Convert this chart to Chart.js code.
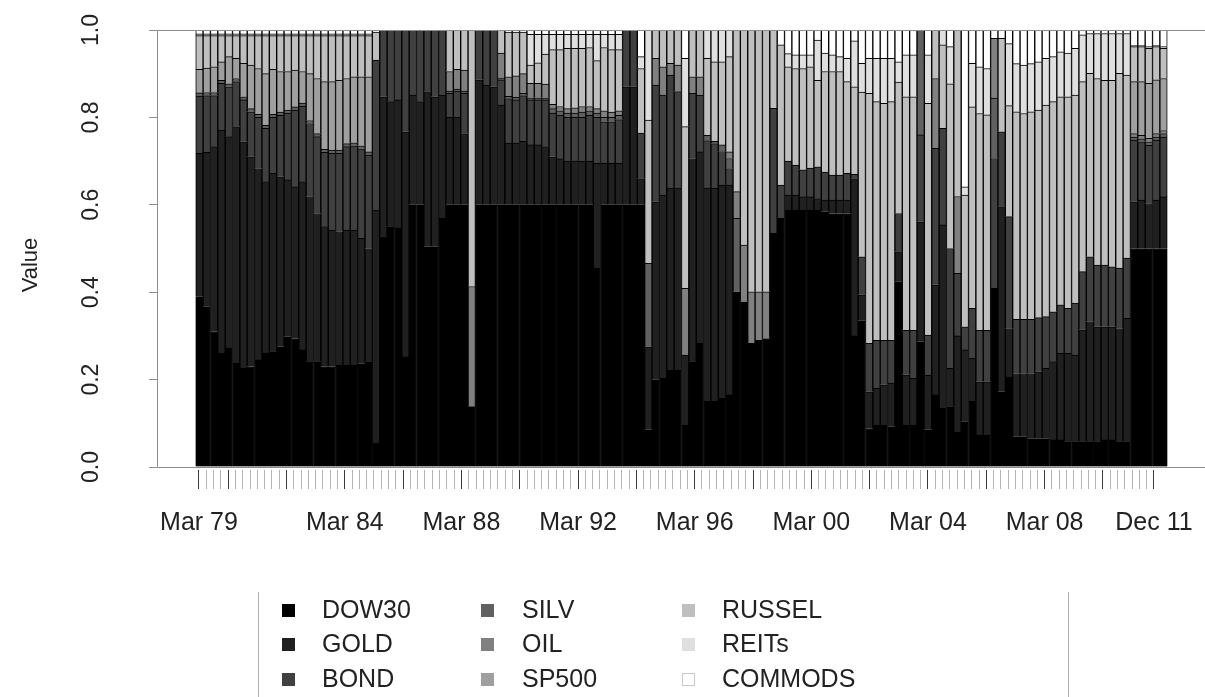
<!DOCTYPE html>
<html>
<head>
<meta charset="utf-8">
<script src="https://cdn.jsdelivr.net/npm/chart.js@4/dist/chart.umd.min.js"></script>
<style>
  html, body { margin: 0; padding: 0; background: #ffffff; }
  canvas { display: block; }
</style>
</head>
<body>
<canvas id="chart" width="1205" height="697"></canvas>
<script>
const FONT = '"Liberation Sans", Arial, Helvetica, sans-serif';

// Quarter-end rebalancing dates, Mar 79 .. Dec 11 (132 quarters)
const monthNames = ['Mar', 'Jun', 'Sep', 'Dec'];
const quarters = [];
for (let yr = 1979; yr <= 2011; yr++) {
  for (const m of monthNames) quarters.push(m + ' ' + String(yr % 100).padStart(2, '0'));
}

// Axis tick layout
const majorTicks = [0, 4, 12, 20, 28, 36, 44, 52, 60, 68, 76, 84, 92, 100, 108, 116, 124, 131];
const labelledTicks = [0, 20, 36, 52, 68, 84, 100, 116, 131];
const yTicks = [0, 0.2, 0.4, 0.6, 0.8, 1.0];

// Portfolio weights per asset, one value per quarter
const dow30 = [
  .39,.367,.31,.26,.272,.237,.226,.23,.245,.26,.264,.275,.298,.294,.268,.241,.241,.23,.23,.233,.233,.233,.236,.241,
  .054,.527,.55,.546,.252,.6,.6,.504,.504,.569,
  .6,.6,.6,.138,.6,.6,.6,
  .6,.6,.6,.6,.6,.6,.6,.6,.6,.6,.6,.6,.6,.455,.6,.6,.6,.6,.6,
  .6,.085,.2,.203,.222,.222,.096,.241,.283,.15,.15,.157,.165,.401,
  .378,.283,.29,.294,.535,.569,.588,.588,.588,.588,.588,.584,.58,.58,.58,
  .3,.335,.088,.096,.096,.092,.424,.096,.096,.287,.085,.165,.134,.138,.08,
  .104,.15,.073,.073,.409,.172,.206,.069,.069,.065,.065,.065,.062,.062,.058,.058,
  .058,.058,.058,.062,.062,.058,.058,.5,.5,.5,.5,.5
];
const gold = [
  .328,.353,.423,.511,.484,.542,.518,.48,.438,.393,.408,.389,.359,.347,.385,.378,.339,.32,.312,.306,.309,.309,.287,.259,
  .534,.32,.286,.294,.515,.251,.236,.355,.343,.282,
  .2,.2,.163,0,.286,.274,.27,
  .228,.141,.141,.145,.137,.137,.133,.11,.105,.1,.1,.1,.1,.24,.095,.095,.095,.27,.27,
  .06,.19,.407,.419,.416,.416,.16,.465,.438,.488,.488,.488,.48,0,
  0,0,0,0,0,0,.034,.034,.03,.03,.026,.027,.031,.031,.031,
  .36,.059,.084,.084,.092,.1,.069,.115,.107,.274,.125,.252,.42,.088,.22,
  .164,.099,.122,.122,0,.424,.111,.145,.145,.149,.153,.161,.179,.198,.202,.198,
  .256,.275,.263,.259,.259,.259,.282,.107,.111,.103,.111,.118
];
const bond = [
  .131,.13,.117,.107,.114,.103,.096,.103,.117,.122,.128,.141,.153,.176,.173,.167,.176,.17,.176,.179,.191,.193,.205,.214,
  .343,.153,.164,.16,.233,.149,.164,.141,.153,.149,
  .055,.06,.092,0,.114,.126,.13,
  .058,.102,.099,.105,.103,.103,.107,.1,.1,.1,.1,.1,.105,.105,.095,.095,.1,.13,.13,
  .104,0,.267,.229,.259,.221,0,.149,.13,.109,.102,.077,.038,0,
  0,0,0,0,.286,.076,.078,.069,.062,.066,.073,.064,.057,.057,.061,
  .01,.087,.111,.11,.102,.098,.087,.102,.11,.199,.092,.312,.221,.274,.143,
  .053,.114,.118,.118,.297,.171,.256,.124,.124,.124,.124,.118,.114,.111,.103,.119,
  .133,.148,.141,.141,.137,.138,.138,.141,.133,.133,.137,.137
];
const silv = [
  .007,.007,.007,.007,.007,.007,.007,.007,.007,.007,.007,.007,.007,.007,.007,.007,.007,.007,.007,.007,.007,.007,.007,.007,
  0,0,0,0,0,0,0,0,0,0,
  .005,.005,.005,0,0,0,0,
  .004,.005,.006,.005,.005,.005,.005,.01,.01,.01,.01,.012,.01,.01,.01,.01,.01,0,0,
  0,.191,0,0,0,0,0,0,0,.012,.005,.015,.023,.168,
  0,0,0,0,0,0,0,0,0,0,0,0,0,0,0,
  0,0,0,0,0,0,0,0,0,.24,0,0,0,0,0,
  0,0,0,0,.138,0,0,0,0,0,0,0,0,0,0,0,
  0,0,0,0,0,0,0,.007,.007,.008,.007,.008
];
const oil = [
  0,0,0,0,0,0,0,0,0,0,0,0,0,0,0,0,0,0,0,0,0,0,0,0,
  0,0,0,0,0,0,0,0,0,0,
  .045,.045,.048,.275,0,0,0,
  .057,.045,.049,.045,.033,.033,.031,.01,.01,.01,.012,.013,.01,.01,.015,.012,.01,0,0,
  0,0,.061,.065,.027,.061,.153,.038,.042,0,0,0,.015,.061,
  .13,.118,.111,.107,0,0,0,0,0,0,0,0,0,0,0,
  0,0,0,0,0,0,0,0,0,0,0,.16,0,0,.176,
  0,0,0,0,.137,0,0,0,0,0,0,0,0,0,0,0,
  0,0,0,0,0,0,0,.008,.008,.008,.008,.007
];
const sp500 = [
  .054,.056,.059,.042,.062,.046,.077,.1,.105,.118,.103,.093,.088,.084,.072,.107,.126,.155,.157,.16,.149,.151,.158,.172,
  0,0,0,0,0,0,0,0,0,0,
  0,0,0,0,0,0,0,
  0,0,0,0,0,0,0,0,0,0,0,0,0,0,0,0,0,0,0,
  0,0,0,0,0,0,0,0,0,0,0,0,0,0,
  0,0,0,0,0,0,0,0,0,0,0,0,0,0,0,
  0,0,0,0,0,0,0,0,0,0,0,0,0,0,0,
  0,0,0,0,0,0,0,0,0,0,0,0,0,0,0,0,
  0,0,0,0,0,0,0,.119,.123,.126,.123,.119
];
const russel = [
  .077,.074,.071,.06,.048,.052,.063,.067,.075,.087,.077,.082,.082,.079,.082,.087,.098,.105,.105,.102,.098,.094,.094,.094,
  .064,0,0,0,0,0,0,0,0,0,
  .095,.09,.092,.587,0,0,0,
  .053,.102,.1,.095,.042,.047,.069,.125,.13,.138,.136,.133,.135,.11,.145,.143,.14,0,0,
  .148,.328,.065,.084,.076,.08,.37,.107,.107,.176,.182,.19,.218,.37,
  .492,.599,.599,.599,.179,.321,.216,.221,.232,.232,.198,.23,.237,.237,.21,
  .2,.377,.572,.546,.542,.546,.301,.534,.534,0,.53,.111,.191,.377,.381,
  .301,.461,.496,.493,0,.214,.254,.475,.471,.475,.475,.484,.481,.476,.484,.476,
  .435,.42,.427,.423,.427,.446,.419,.08,.08,.08,.076,.069
];
const reits = [
  .004,.004,.004,.004,.004,.004,.004,.004,.004,.004,.004,.004,.004,.004,.004,.004,.004,.004,.004,.004,.004,.004,.004,.004,
  0,0,0,0,0,0,0,0,0,0,
  0,0,0,0,0,0,0,
  0,0,0,0,.07,.065,.045,.035,.035,.032,.032,.032,.03,.06,.03,.035,.035,0,0,
  .027,.206,0,0,0,0,.156,0,0,.065,.073,.073,.061,0,
  0,0,0,0,0,0,.03,.031,.031,.027,.092,.042,.038,.034,.053,
  .105,.066,.08,.099,.103,.099,.046,.096,.096,0,.111,0,.034,.085,0,
  .019,.1,.107,.106,0,0,.142,.11,.111,.11,.11,.107,.103,.103,.1,.107,
  .107,.091,.103,.107,.107,.091,.095,.003,.003,.004,.003,.004
];
const commods = [
  .009,.009,.009,.009,.009,.009,.009,.009,.009,.009,.009,.009,.009,.009,.009,.009,.009,.009,.009,.009,.009,.009,.009,.009,
  .005,0,0,0,0,0,0,0,0,0,
  0,0,0,0,0,0,0,
  0,.005,.005,.005,.01,.01,.01,.01,.01,.01,.01,.01,.01,.01,.01,.01,.01,0,0,
  .061,0,0,0,0,0,.065,0,0,0,0,0,0,0,
  0,0,0,0,0,.034,.054,.057,.057,.057,.023,.053,.057,.061,.065,
  .025,.076,.065,.065,.065,.065,.073,.057,.057,0,.057,0,0,.038,0,
  .359,.076,.084,.088,.019,.019,.031,.077,.08,.077,.073,.065,.061,.05,.053,.042,
  .011,.008,.008,.008,.008,.008,.008,.035,.035,.038,.035,.038
];

const seriesNames = ['DOW30', 'GOLD', 'BOND', 'SILV', 'OIL', 'SP500', 'RUSSEL', 'REITs', 'COMMODS'];
const seriesValues = [dow30, gold, bond, silv, oil, sp500, russel, reits, commods];
const seriesColors = ['#000000', '#202020', '#404040', '#606060', '#808080', '#9f9f9f', '#bfbfbf', '#dfdfdf', '#ffffff'];

const datasets = seriesNames.map((name, k) => ({
  label: name,
  data: seriesValues[k].map((v, i) => ({ x: i, y: v })),
  backgroundColor: seriesColors[k],
  borderColor: '#000000',
  borderWidth: 1,
  stack: 'weights',
  barPercentage: 1,
  categoryPercentage: 1
}));

// Frame, rotated y labels, axis title and the three-column key
const decorations = {
  id: 'decorations',
  afterDraw(chart) {
    const { ctx, chartArea: a, scales } = chart;
    ctx.save();

    ctx.strokeStyle = '#8c8c8c';
    ctx.lineWidth = 1;
    ctx.beginPath();
    ctx.moveTo(chart.width, Math.round(a.top) + 0.5);
    ctx.lineTo(Math.round(a.left) + 0.5, Math.round(a.top) + 0.5);
    ctx.lineTo(Math.round(a.left) + 0.5, Math.round(a.bottom) + 0.5);
    ctx.lineTo(chart.width, Math.round(a.bottom) + 0.5);
    ctx.stroke();

    ctx.fillStyle = '#222222';
    ctx.font = '23px ' + FONT;
    ctx.textAlign = 'center';
    ctx.textBaseline = 'middle';
    yTicks.forEach(v => {
      const py = scales.y.getPixelForValue(v);
      ctx.save();
      ctx.translate(92, py);
      ctx.rotate(-Math.PI / 2);
      ctx.fillText(v.toFixed(1), 0, 0);
      ctx.restore();
    });

    ctx.font = '22px ' + FONT;
    ctx.save();
    ctx.translate(31, 265);
    ctx.rotate(-Math.PI / 2);
    ctx.fillText('Value', 0, 0);
    ctx.restore();

    // key
    ctx.font = '25px ' + FONT;
    const cols = [{ sq: 282, tx: 322 }, { sq: 481, tx: 522 }, { sq: 682, tx: 722 }];
    const rows = [610, 644, 679];
    ctx.textAlign = 'left';
    chart.data.datasets.forEach((ds, k) => {
      const c = cols[Math.floor(k / 3)];
      const ry = rows[k % 3];
      ctx.fillStyle = ds.backgroundColor;
      ctx.fillRect(c.sq, ry - 6, 13, 13);
      if (ds.backgroundColor === '#ffffff') {
        ctx.strokeStyle = '#c8c8c8';
        ctx.strokeRect(c.sq + 0.5, ry - 5.5, 12, 12);
      }
      ctx.fillStyle = '#222222';
      ctx.fillText(ds.label, c.tx, ry + 1);
    });
    ctx.strokeStyle = '#b0b0b0';
    ctx.beginPath();
    ctx.moveTo(258.5, 592); ctx.lineTo(258.5, 697);
    ctx.moveTo(1068.5, 592); ctx.lineTo(1068.5, 697);
    ctx.stroke();

    ctx.restore();
  }
};

new Chart(document.getElementById('chart'), {
  type: 'bar',
  data: { datasets },
  options: {
    responsive: false,
    devicePixelRatio: 1,
    animation: false,
    layout: { padding: { top: 30, right: 0, bottom: 0, left: 0 } },
    plugins: { legend: { display: false }, tooltip: { enabled: false } },
    scales: {
      x: {
        type: 'linear',
        display: true,
        weight: 0,
        stacked: true,
        offset: false,
        min: -5.761,
        max: 136.63,
        border: { display: false },
        grid: { display: false },
        ticks: { display: false },
        afterFit(scale) {
          scale.height = 3;
          scale.paddingLeft = 0;
          scale.paddingRight = 0;
        }
      },
      quarterAxis: {
        type: 'linear',
        position: 'bottom',
        weight: 1,
        offset: false,
        min: -5.761,
        max: 138.0,
        afterBuildTicks(scale) {
          scale.ticks = quarters.map((q, i) => ({ value: i }));
        },
        afterFit(scale) {
          scale.height = 227;
          scale.paddingLeft = 0;
          scale.paddingRight = 0;
        },
        border: { display: false },
        grid: {
          drawOnChartArea: false,
          drawTicks: true,
          offset: false,
          tickLength: 19,
          tickWidth: 1,
          tickColor: ctx => majorTicks.includes(ctx.index) ? '#3a3a3a' : '#b4b4b4'
        },
        ticks: {
          autoSkip: false,
          minRotation: 0,
          maxRotation: 0,
          padding: 19,
          color: '#222222',
          font: { family: FONT, size: 25 },
          callback: (v, i) => labelledTicks.includes(i) ? quarters[i] : ''
        }
      },
      y: {
        type: 'linear',
        stacked: true,
        min: 0,
        max: 1,
        afterBuildTicks(scale) {
          scale.ticks = yTicks.map(v => ({ value: v }));
        },
        afterFit(scale) {
          scale.width = 157;
          scale.paddingTop = 0;
          scale.paddingBottom = 0;
        },
        border: { display: false },
        grid: {
          drawOnChartArea: false,
          drawTicks: true,
          tickLength: 8,
          tickColor: '#8c8c8c'
        },
        ticks: { display: false }
      }
    }
  },
  plugins: [decorations]
});
</script>
</body>
</html>
